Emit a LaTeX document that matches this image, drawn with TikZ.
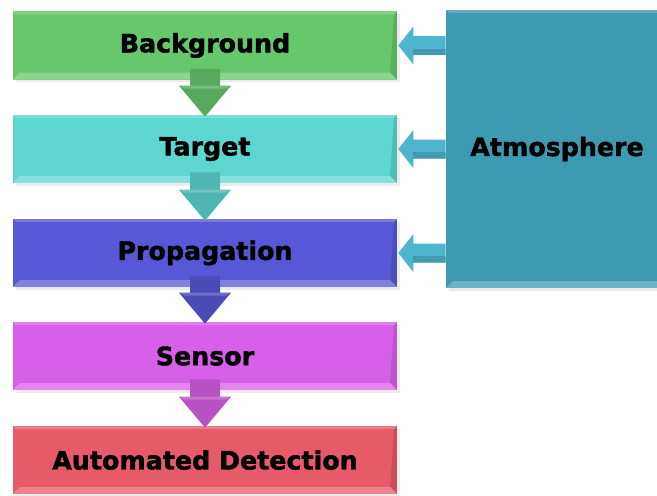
\documentclass[tikz,border=0pt]{standalone}
\usepackage{fontspec}
\setmainfont{DejaVu Sans}
\newfontface\heavyfont{DejaVu Sans Bold}[FakeBold=1.5]
\usetikzlibrary{calc, shadows}

\definecolor{bgcol}{HTML}{66C86B}
\definecolor{tgcol}{HTML}{5ED6D0}
\definecolor{prcol}{HTML}{5858D6}
\definecolor{secol}{HTML}{D760E8}
\definecolor{adcol}{HTML}{E65A6A}
\definecolor{atcol}{HTML}{3D9AB3}
\definecolor{lacol}{HTML}{4DB5D0}

\tikzset{
  stage/.style={rectangle, fill=#1, minimum width=9.6cm, minimum height=1.7cm,
    font=\fontsize{18}{22}\heavyfont, text=black,
    drop shadow={opacity=0.15, shadow xshift=2pt, shadow yshift=-2pt},
    path picture={
      \fill[white, opacity=0.25] (path picture bounding box.south west) -- (path picture bounding box.south east)
        -- ([shift={(-7,7)}]path picture bounding box.south east) -- ([shift={(7,7)}]path picture bounding box.south west) -- cycle;
      \fill[white, opacity=0.2] (path picture bounding box.north west) -- (path picture bounding box.north east)
        -- ([shift={(-3,-3)}]path picture bounding box.north east) -- ([shift={(3,-3)}]path picture bounding box.north west) -- cycle;
      \fill[black, opacity=0.12] (path picture bounding box.north east) -- (path picture bounding box.south east)
        -- ([shift={(-7,7)}]path picture bounding box.south east) -- ([shift={(-3,-3)}]path picture bounding box.north east) -- cycle;
    }},
  x=0.025cm, y=0.025cm
}

% block arrow down between two stages
\newcommand{\blockdown}[3]{%
  \fill[#3] ($(#1.south)+(-15,11)$) -- ($(#1.south)+(15,11)$) -- ($(#2.north)+(15,29)$)
    -- ($(#2.north)+(26,29)$) -- ($(#2.north)+(0,-2)$) -- ($(#2.north)+(-26,29)$)
    -- ($(#2.north)+(-15,29)$) -- cycle;
  \fill[white, opacity=0.2] ($(#2.north)+(-26,29)$) -- ($(#2.north)+(26,29)$) -- ($(#2.north)+(20,26)$) -- ($(#2.north)+(-20,26)$) -- cycle;
}
% block arrow from the atmosphere to a stage
\newcommand{\blockleft}[2]{%
  \fill[#2] (at.west |- #1.east) ++(0,9.5) -- ($(#1.east)+(16,9.5)$) -- ($(#1.east)+(16,19)$)
    -- ($(#1.east)+(1,0)$) -- ($(#1.east)+(16,-19)$) -- ($(#1.east)+(16,-9.5)$)
    -- ($(at.west |- #1.east)+(0,-9.5)$) -- cycle;
  \fill[black, opacity=0.15] ($(at.west |- #1.east)+(0,-3)$) -- ($(#1.east)+(16,-3)$) -- ($(#1.east)+(16,-9.5)$)
    -- ($(at.west |- #1.east)+(0,-9.5)$) -- cycle;
}

\begin{document}
\begin{tikzpicture}
  \useasboundingbox (0,-495) rectangle (657,0);

  \node[stage=atcol, minimum width=5.55cm, minimum height=6.95cm] (at) at (557,-149) {Atmosphere};

  \node[stage=bgcol] (bg) at (205,-45.5) {Background};
  \node[stage=tgcol] (tg) at (205,-149) {Target};
  \node[stage=prcol] (pr) at (205,-253) {Propagation};
  \node[stage=secol] (se) at (205,-356) {Sensor};
  \node[stage=adcol] (ad) at (205,-460) {Automated Detection};

  \blockdown{bg}{tg}{bgcol!85!black}
  \blockdown{tg}{pr}{tgcol!85!black}
  \blockdown{pr}{se}{prcol!85!black}
  \blockdown{se}{ad}{secol!85!black}

  \blockleft{bg}{lacol}
  \blockleft{tg}{lacol}
  \blockleft{pr}{lacol}
\end{tikzpicture}
\end{document}
